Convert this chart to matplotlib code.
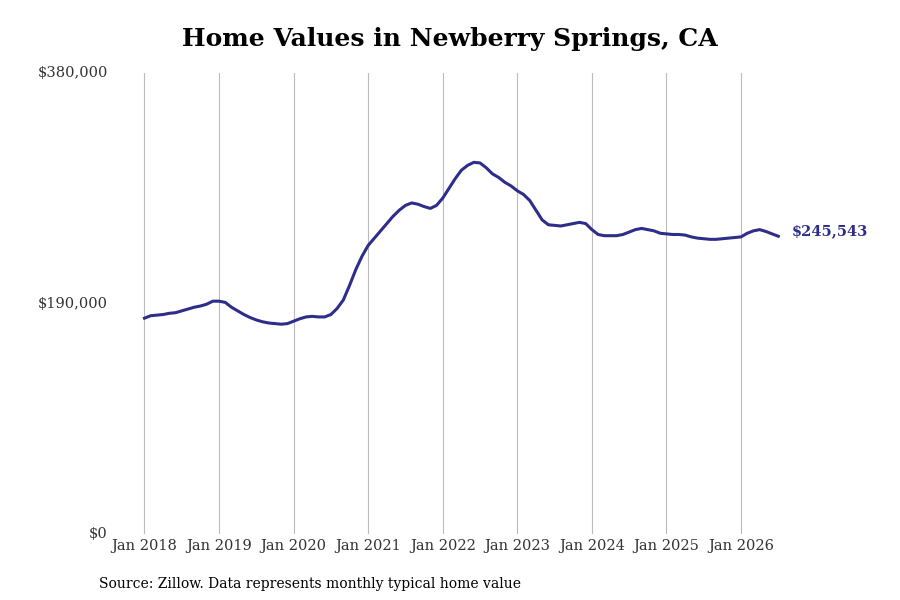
import matplotlib
matplotlib.use("Agg")
import matplotlib.pyplot as plt
import numpy as np

plt.rcParams['font.family'] = ['DejaVu Serif']

start_year = 2018
# monthly typical home value, Jan 2018 .. Jul 2026
values = [
    178000, 180000, 180500, 181000, 182000, 182500, 184000, 185500, 187000, 188000, 189500, 192000,
    192000, 191000, 187000, 184000, 181000, 178500, 176500, 175000, 174000, 173500, 173000, 173500,
    175500, 177500, 179000, 179500, 179000, 179000, 181000, 186000, 193000, 205000, 218000, 229000,
    238000, 244000, 250000, 256000, 262000, 267000, 271000, 273000, 272000, 270000, 268500, 271000,
    277000, 285000, 293000, 300000, 304000, 306500, 306000, 302000, 297000, 294000, 290000, 287000,
    283000, 280000, 275000, 267000, 259000, 255000, 254500, 254000, 255000, 256000, 257000, 256000,
    251000, 247000, 246000, 246000, 246000, 247000, 249000, 251000, 252000, 251000, 250000, 248000,
    247500, 247000, 247000, 246500, 245000, 244000, 243500, 243000, 243000, 243500, 244000, 244500,
    245000, 248000, 250000, 251000, 249500, 247500, 245543,
]
yticks = [0, 190000, 380000]
ytick_labels = ["$0", "$190,000", "$380,000"]
xtick_years = list(range(2018, 2027))

x = start_year + np.arange(len(values)) / 12.0
color = "#2e2e8a"

fig, ax = plt.subplots(figsize=(9, 6), dpi=100)
fig.subplots_adjust(left=0.125, right=0.97, top=0.878, bottom=0.11)

ax.plot(x, values, color=color, lw=2.2)
ax.text(x[-1] + 0.18, values[-1] + 4000, f"${values[-1]:,}", color=color,
        fontsize=10.5, fontweight="bold", va="center")

ax.set_ylim(0, 380000)
ax.set_xlim(2017.571, 2027.77)
ax.set_yticks(yticks)
ax.set_yticklabels(ytick_labels)
ax.set_xticks(xtick_years)
ax.set_xticklabels([f"Jan {y}" for y in xtick_years])
ax.tick_params(length=0, labelsize=10.5, colors="#333333")
for lbl in ax.get_yticklabels():
    lbl.set_verticalalignment("center")
ax.grid(axis="x", color="#bbbbbb", lw=0.8)
ax.set_axisbelow(True)
for s in ax.spines.values():
    s.set_visible(False)

fig.suptitle("Home Values in Newberry Springs, CA", fontsize=18, fontweight="bold", y=0.955)
fig.text(0.11, 0.02, "Source: Zillow. Data represents monthly typical home value", fontsize=10)

fig.savefig("out.png")
